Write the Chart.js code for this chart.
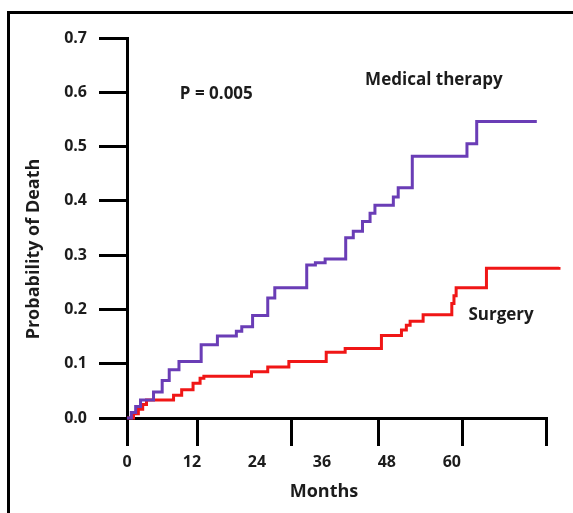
<!DOCTYPE html>
<html>
<head>
<meta charset="utf-8">
<script src="https://cdn.jsdelivr.net/npm/chart.js@4.4.1/dist/chart.umd.min.js"></script>
<style>
  html, body { margin: 0; padding: 0; background: #fff; }
  #wrap { position: relative; width: 573px; height: 513px; overflow: hidden; background: #fff; }
  #frame { position: absolute; left: 7px; top: 11px; right: -10px; bottom: -10px;
           border-top: 3px solid #000; border-left: 3px solid #000; }
  canvas { position: absolute; left: 0; top: 0; }
</style>
</head>
<body>
<div id="wrap">
  <div id="frame"></div>
  <canvas id="c" width="573" height="513"></canvas>
</div>
<script>
// Cumulative probability of death (step curve): month of each step and the new level
const medicalMonths = [0, 0.8, 1.6, 2.5, 4.9, 6.5, 7.8, 9.6, 13.7, 16.7, 20.2, 21.2, 23.2, 26.0, 27.3, 33.2, 34.8, 36.6, 40.4, 41.8, 43.5, 44.9, 45.8, 49.2, 50.1, 52.7, 62.8, 64.6, 75.7];
const medicalProb   = [0, 0.010, 0.021, 0.033, 0.048, 0.069, 0.089, 0.104, 0.135, 0.151, 0.160, 0.168, 0.189, 0.221, 0.240, 0.282, 0.286, 0.293, 0.332, 0.344, 0.362, 0.377, 0.392, 0.407, 0.424, 0.482, 0.505, 0.546, 0.546];

const surgeryMonths = [0, 1.2, 2.1, 2.9, 3.6, 8.6, 10.1, 12.2, 13.5, 14.2, 23.0, 26.0, 29.9, 36.8, 40.3, 47.0, 50.7, 51.6, 52.3, 54.7, 60.0, 60.4, 60.8, 66.4, 79.8];
const surgeryProb   = [0, 0.008, 0.016, 0.025, 0.033, 0.042, 0.052, 0.064, 0.073, 0.077, 0.085, 0.094, 0.104, 0.121, 0.128, 0.152, 0.162, 0.171, 0.178, 0.190, 0.211, 0.225, 0.240, 0.276, 0.278];

// Axis ticks
const monthLabels    = [0, 12, 24, 36, 48, 60];
const monthTickMarks = [0, 13.1, 30.3, 46.5, 61.9, 77.4];
const probTicks      = [0, 0.1, 0.2, 0.3, 0.4, 0.5, 0.6, 0.7];
const X_MAX = 77.4;

// Text notes placed in data units
const notes = [
  { text: 'P = 0.005',       month: 16.5, prob: 0.597 },
  { text: 'Medical therapy', month: 56.7, prob: 0.622 },
  { text: 'Surgery',         month: 69.1, prob: 0.190 }
];

const INK = '#1c1c1c';
const FONT = '"Open Sans", "DejaVu Sans", sans-serif';

const toPoints = (xs, ys) => xs.map((m, i) => ({ x: m, y: ys[i] }));

const notesPlugin = {
  id: 'notes',
  afterDraw(chart) {
    const { ctx, chartArea, scales } = chart;
    const xs = scales.x, ys = scales.y;
    ctx.save();
    ctx.fillStyle = INK;
    ctx.textAlign = 'center';
    ctx.textBaseline = 'middle';
    ctx.font = '700 17px ' + FONT;
    notes.forEach(n => ctx.fillText(n.text, xs.getPixelForValue(n.month), ys.getPixelForValue(n.prob)));
    // axis titles
    ctx.font = '700 18px ' + FONT;
    ctx.fillText('Months', chartArea.left + 197, chartArea.bottom + 74);
    ctx.translate(chartArea.left - 93, chartArea.top + 211);
    ctx.rotate(-Math.PI / 2);
    ctx.fillText('Probability of Death', 0, 0);
    ctx.restore();
  }
};

new Chart(document.getElementById('c'), {
  type: 'line',
  data: {
    datasets: [
      {
        label: 'Medical therapy',
        data: toPoints(medicalMonths, medicalProb),
        borderColor: '#6a3db6',
        borderWidth: 3,
        stepped: 'before',
        pointRadius: 0,
        fill: false,
        clip: false
      },
      {
        label: 'Surgery',
        data: toPoints(surgeryMonths, surgeryProb),
        borderColor: '#f01616',
        borderWidth: 3,
        stepped: 'before',
        pointRadius: 0,
        fill: false,
        clip: false
      }
    ]
  },
  options: {
    responsive: false,
    animation: false,
    events: [],
    layout: { padding: { left: 0, top: 38, right: 27, bottom: 0 } },
    plugins: { legend: { display: false }, tooltip: { enabled: false } },
    scales: {
      x: {
        type: 'linear', position: 'bottom', weight: 0, min: 0, max: X_MAX,
        afterFit: s => { s.height = 0; },
        afterBuildTicks: s => { s.ticks = monthTickMarks.map(v => ({ value: v })); },
        ticks: { display: false },
        grid: { drawOnChartArea: false, drawTicks: true, tickLength: 28, lineWidth: 3, color: '#000' },
        border: { display: true, width: 3, color: '#000' }
      },
      xl: {
        type: 'linear', position: 'bottom', weight: 1, min: 0, max: X_MAX,
        afterFit: s => { s.height = 95; },
        afterBuildTicks: s => { s.ticks = monthLabels.map(v => ({ value: v })); },
        ticks: {
          autoSkip: false, maxRotation: 0, padding: 27, color: INK,
          font: { family: FONT, size: 16, weight: '700' },
          callback: v => String(v)
        },
        grid: { display: false },
        border: { display: false }
      },
      y: {
        type: 'linear', position: 'left', min: 0, max: 0.7,
        afterFit: s => { s.width = 127; },
        afterBuildTicks: s => { s.ticks = probTicks.map(v => ({ value: v })); },
        ticks: {
          padding: 12, color: INK,
          font: { family: FONT, size: 16, weight: '700' },
          callback: v => Number(v).toFixed(1)
        },
        grid: { drawOnChartArea: false, drawTicks: true, tickLength: 28, lineWidth: 3, color: '#000' },
        border: { display: true, width: 3, color: '#000' }
      }
    }
  },
  plugins: [notesPlugin]
});
</script>
</body>
</html>
